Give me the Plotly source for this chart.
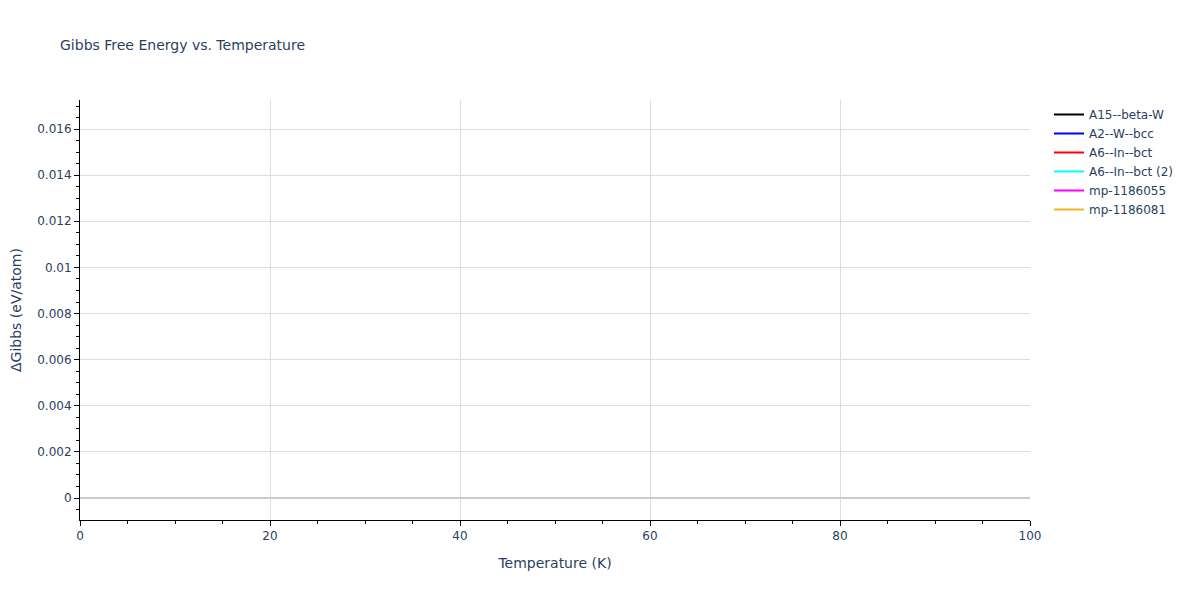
import plotly.graph_objects as go

names = ["A15--beta-W", "A2--W--bcc", "A6--In--bct", "A6--In--bct (2)", "mp-1186055", "mp-1186081"]
colors = ["black", "blue", "red", "cyan", "magenta", "#EBB81C"]
# No values are visible inside the reference chart window (missing data)
temps = [[0, 100] for _ in names]
dgibbs = [[None, None] for _ in names]

fig = go.Figure()
for n, c, t, g in zip(names, colors, temps, dgibbs):
    fig.add_trace(go.Scatter(x=t, y=g, mode="lines", name=n, line=dict(color=c, width=2)))

axis_common = dict(
    showline=True, linecolor="black", linewidth=1,
    ticks="outside", tickcolor="black", ticklen=5,
    gridcolor="#dddddd", zeroline=True, zerolinecolor="#cccccc", zerolinewidth=2,
    minor=dict(ticks="outside", ticklen=3, tickcolor="black", showgrid=False),
    automargin=False,
)
fig.update_layout(
    font=dict(family="Verdana, DejaVu Sans, sans-serif", color="#2a3f5f"),
    title=dict(text="Gibbs Free Energy vs. Temperature", font=dict(size=14),
               x=52 / 1200, xanchor="left", yref="container", y=1 - 37 / 600, yanchor="middle"),
    width=1200, height=600,
    plot_bgcolor="white", paper_bgcolor="white",
    margin=dict(l=72, r=178, t=92, b=88),
    xaxis=dict(title="Temperature (K)", range=[0, 100], dtick=20, **axis_common),
    yaxis=dict(title="ΔGibbs (eV/atom)", range=[-0.000954, 0.01726], dtick=0.002, **axis_common),
    showlegend=True,
)
fig.write_html("out.html")
